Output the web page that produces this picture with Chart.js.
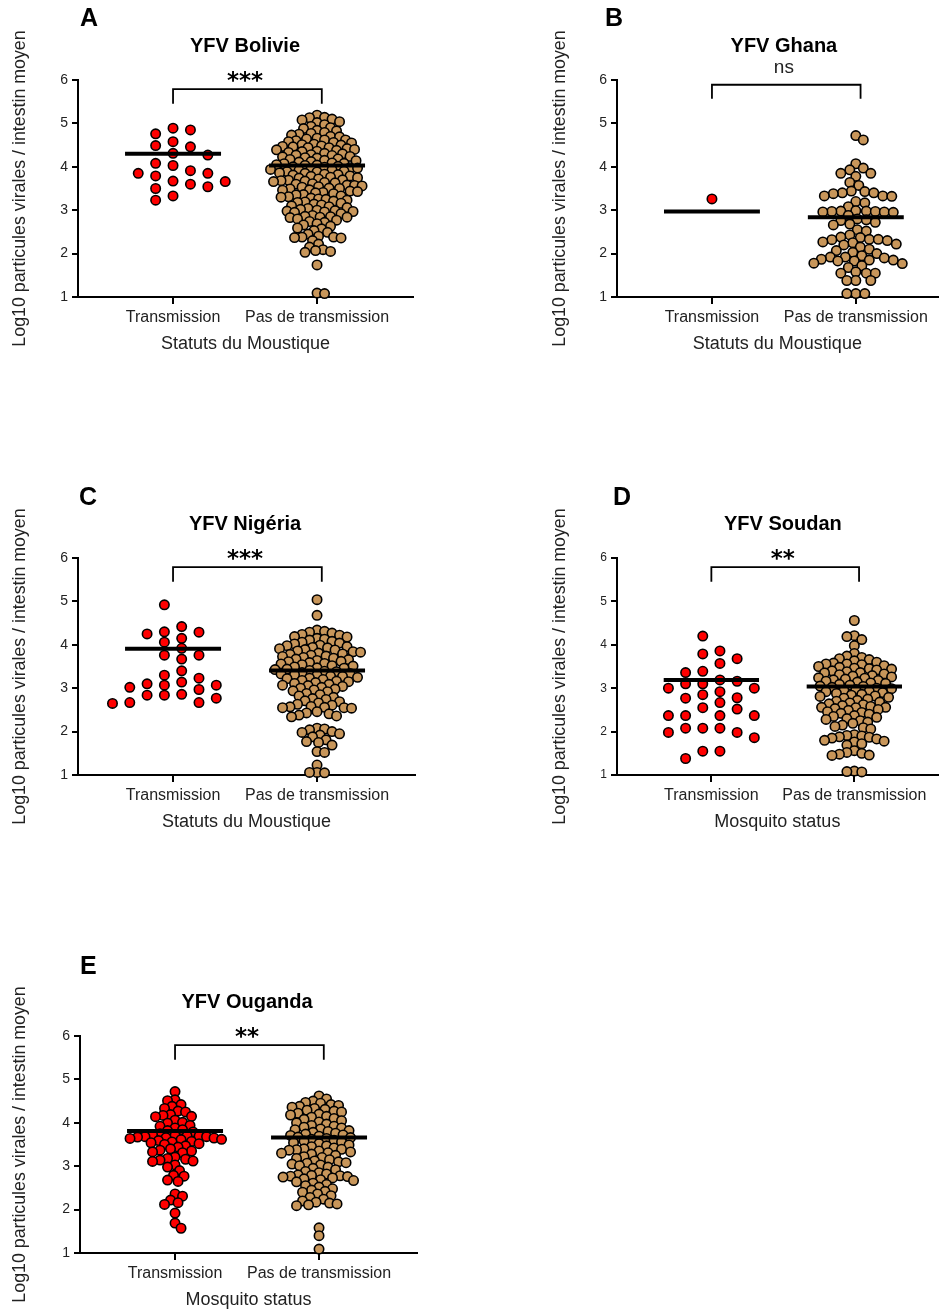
<!DOCTYPE html>
<html>
<head>
<meta charset="utf-8">
<title>YFV - charge virale de l'intestin moyen</title>
<script src="https://cdn.jsdelivr.net/npm/chart.js@4.4.1/dist/chart.umd.min.js"></script>
<style>
  html, body { margin: 0; padding: 0; background: #fff; }
  #page { position: relative; width: 944px; height: 1311px; overflow: hidden; }
  #page canvas { position: absolute; }
</style>
</head>
<body>
<div id="page">
  <canvas id="chartA" width="430" height="360" style="left:0;top:0"></canvas>
  <canvas id="chartB" width="404" height="360" style="left:540px;top:0"></canvas>
  <canvas id="chartC" width="430" height="360" style="left:0;top:478px"></canvas>
  <canvas id="chartD" width="404" height="360" style="left:540px;top:478px"></canvas>
  <canvas id="chartE" width="430" height="355" style="left:0;top:956px"></canvas>
</div>
<script>
// --- data (log10 viral particles per midgut) ---
const categories = ['Transmission', 'Pas de transmission'];
const yTicks = [1, 2, 3, 4, 5, 6];
const yTitle = 'Log10 particules virales / intestin moyen';

const bolivieTrans = [4.89, 4.85, 4.76, 4.58, 4.49, 4.46, 4.31, 4.27, 4.08, 4.03, 3.91,
  3.85, 3.85, 3.79, 3.67, 3.66, 3.60, 3.54, 3.50, 3.33, 3.23];
const bolivieNo = [5.19, 5.14, 5.13, 5.10, 5.08, 5.04, 5.02, 4.97,
  4.93, 4.90, 4.88, 4.84, 4.83, 4.79, 4.77, 4.75,
  4.73, 4.70, 4.69, 4.66, 4.64, 4.62, 4.62, 4.60, 4.58, 4.56, 4.55, 4.52, 4.51, 4.50,
  4.48, 4.47, 4.46, 4.44, 4.44, 4.42, 4.40, 4.39, 4.38, 4.36, 4.35, 4.33, 4.31, 4.30, 4.28, 4.27, 4.26, 4.24, 4.23, 4.21,
  4.20, 4.18, 4.17, 4.15, 4.14, 4.12, 4.11, 4.09, 4.08, 4.07, 4.05, 4.04, 4.03, 4.01, 4.00, 3.99, 3.98, 3.97, 3.95, 3.94,
  3.93, 3.92, 3.90, 3.89, 3.88, 3.86, 3.85, 3.83, 3.82, 3.81, 3.79, 3.78, 3.76, 3.75, 3.74, 3.72, 3.70, 3.69, 3.68, 3.67,
  3.66, 3.64, 3.63, 3.61, 3.60, 3.58, 3.57, 3.56, 3.54, 3.53, 3.51, 3.50, 3.49, 3.47, 3.46, 3.44, 3.43, 3.41, 3.40, 3.38,
  3.36, 3.35, 3.33, 3.31, 3.30, 3.28, 3.26, 3.25, 3.23, 3.21, 3.19, 3.18, 3.16, 3.14, 3.12, 3.10, 3.08, 3.06, 3.04, 3.02,
  3.00, 2.99, 2.98, 2.97, 2.96, 2.95, 2.92, 2.88, 2.86, 2.85, 2.84, 2.84, 2.83, 2.80, 2.77, 2.74, 2.72, 2.69, 2.66, 2.63,
  2.59, 2.57, 2.53, 2.49, 2.45, 2.40, 2.38, 2.38, 2.37, 2.36,
  2.30, 2.22, 2.15, 2.09, 2.07, 2.05, 2.03,
  1.74, 1.09, 1.08];
const bolivieMeans = [4.30, 4.03];

const ghanaTrans = [3.26];
const ghanaNo = [4.72, 4.62, 4.07, 3.97, 3.93, 3.85, 3.85, 3.78, 3.64, 3.57,
  3.44, 3.43, 3.40, 3.40, 3.38, 3.33, 3.33, 3.32, 3.20, 3.17, 3.08,
  2.99, 2.98, 2.98, 2.97, 2.97, 2.96, 2.96, 2.95, 2.88,
  2.80, 2.78, 2.76, 2.72, 2.68, 2.66, 2.55, 2.52,
  2.43, 2.38, 2.37, 2.33, 2.33, 2.32, 2.30, 2.27, 2.25, 2.22, 2.20, 2.15,
  2.10, 2.07, 2.03, 2.00, 1.95, 1.92, 1.92, 1.90, 1.87, 1.85, 1.85, 1.83, 1.83, 1.78, 1.77,
  1.72, 1.68, 1.58, 1.55, 1.55, 1.55, 1.38, 1.38, 1.38, 1.08, 1.08, 1.08];
const ghanaMeans = [2.97, 2.84];

const nigeriaTrans = [4.92, 4.42, 4.30, 4.29, 4.25, 4.15, 4.06, 3.92, 3.76, 3.76, 3.67,
  3.40, 3.30, 3.23, 3.14, 3.10, 3.07, 3.07, 3.02, 2.97, 2.86, 2.84, 2.84, 2.77, 2.67, 2.67, 2.65];
const nigeriaNo = [5.04, 4.68,
  4.34, 4.31, 4.29, 4.27, 4.24, 4.22,
  4.19, 4.18, 4.15, 4.13, 4.11, 4.08, 4.06, 4.04, 4.02,
  3.99, 3.98, 3.96, 3.94, 3.93, 3.91, 3.89, 3.88, 3.86, 3.84, 3.83, 3.81,
  3.79, 3.78, 3.76, 3.74, 3.73, 3.71, 3.69, 3.67, 3.66, 3.64, 3.62, 3.61, 3.59, 3.57, 3.56, 3.54, 3.52, 3.51,
  3.49, 3.47, 3.46, 3.44, 3.43, 3.41, 3.39, 3.38, 3.36, 3.34, 3.33, 3.31, 3.30, 3.28, 3.27, 3.25, 3.23, 3.22, 3.20,
  3.18, 3.16, 3.15, 3.13, 3.11, 3.09, 3.07, 3.06, 3.04, 3.02, 3.00, 2.98, 2.96, 2.94, 2.92,
  2.88, 2.85, 2.82, 2.79, 2.76, 2.74, 2.71, 2.69, 2.66, 2.63, 2.61, 2.58, 2.57, 2.56, 2.55, 2.55, 2.54,
  2.46, 2.43, 2.41, 2.38, 2.36, 2.34,
  2.08, 2.06, 2.04, 2.00, 1.98, 1.95, 1.92, 1.88, 1.81, 1.77, 1.75, 1.69, 1.54, 1.52,
  1.23, 1.06, 1.06, 1.05];
const nigeriaMeans = [3.91, 3.41];

const soudanTrans = [4.20, 3.86, 3.79, 3.68, 3.57, 3.39, 3.36, 3.19, 3.16, 3.10, 3.10, 3.00, 3.00,
  2.92, 2.85, 2.78, 2.77, 2.67, 2.55, 2.52, 2.37, 2.37, 2.37, 2.37, 2.08, 2.08, 2.08,
  1.98, 1.98, 1.86, 1.55, 1.55, 1.38];
const soudanNo = [4.56,
  4.21, 4.19, 4.12, 3.98,
  3.80, 3.74, 3.71, 3.68, 3.66, 3.63, 3.60, 3.58, 3.56, 3.56,
  3.54, 3.52, 3.50, 3.48, 3.46, 3.45,
  3.44, 3.42, 3.40, 3.38, 3.36, 3.35, 3.33, 3.31, 3.29, 3.28, 3.26, 3.24,
  3.23, 3.21, 3.19, 3.18, 3.16, 3.14, 3.12, 3.11,
  3.09, 3.07, 3.05, 3.04, 3.02, 3.00, 2.99, 2.97, 2.95, 2.93, 2.92, 2.90,
  2.88, 2.86, 2.84, 2.82, 2.81,
  2.79, 2.77, 2.75, 2.72, 2.70, 2.68, 2.66, 2.64, 2.62, 2.60, 2.58, 2.56, 2.56,
  2.55, 2.53, 2.51,
  2.49, 2.46, 2.44, 2.42, 2.40, 2.37, 2.35, 2.33, 2.30, 2.28,
  2.25, 2.22, 2.19, 2.15, 2.12, 2.09, 2.06,
  1.93, 1.91, 1.90, 1.88, 1.87, 1.85, 1.83, 1.80, 1.78, 1.76, 1.72, 1.69,
  1.56, 1.52, 1.50, 1.48, 1.46, 1.45,
  1.09, 1.08, 1.07];
const soudanMeans = [3.19, 3.04];

const ougandaTrans = [4.72, 4.53, 4.51, 4.42, 4.38, 4.33, 4.27, 4.25, 4.19, 4.17, 4.15, 4.14,
  4.06, 4.01, 3.99, 3.94, 3.92, 3.88, 3.84, 3.82, 3.79, 3.75, 3.73, 3.71, 3.70, 3.69, 3.68, 3.68,
  3.67, 3.66, 3.65, 3.64, 3.62, 3.61, 3.59, 3.57, 3.56, 3.54, 3.52, 3.50, 3.47, 3.44, 3.40,
  3.37, 3.35, 3.33, 3.31, 3.21, 3.18, 3.16, 3.14, 3.12, 3.11, 3.03, 2.98, 2.90, 2.79, 2.77,
  2.68, 2.65, 2.36, 2.31, 2.22, 2.16, 2.12, 1.92, 1.69, 1.57];
const ougandaNo = [4.62, 4.55, 4.50, 4.47, 4.45,
  4.42, 4.40, 4.38, 4.36, 4.33, 4.31, 4.29, 4.27, 4.25, 4.22, 4.20, 4.18, 4.15, 4.13, 4.10,
  4.08, 4.05, 4.02, 4.00, 3.97, 3.94, 3.92, 3.90, 3.88, 3.86, 3.84,
  3.82, 3.80,
  3.78, 3.76, 3.74, 3.72, 3.71, 3.69, 3.67, 3.66, 3.64,
  3.62, 3.60, 3.58, 3.56,
  3.54, 3.52, 3.49, 3.47, 3.45, 3.42, 3.40, 3.39, 3.38, 3.37, 3.35,
  3.33, 3.31, 3.30,
  3.28, 3.25, 3.22, 3.20, 3.18, 3.15, 3.12, 3.10, 3.08, 3.07, 3.05, 3.03, 3.01,
  2.98, 2.95, 2.92, 2.88, 2.85, 2.82, 2.80, 2.79, 2.78, 2.77, 2.76, 2.75, 2.73, 2.71, 2.69, 2.67,
  2.64, 2.61, 2.58, 2.55, 2.52, 2.48, 2.45, 2.42, 2.40,
  2.36, 2.32, 2.28, 2.24, 2.20, 2.17, 2.15, 2.13, 2.11, 2.09,
  1.58, 1.40, 1.09];
const ougandaMeans = [3.81, 3.66];

// --- styling ---
const FONT = 'Arial, "Liberation Sans", sans-serif';
const INK = '#222';
const RED = '#ff0000';
const TAN = '#c8965a';
const X_MIN = 0.34;
const PX_X = 144;        // pixels per category unit
const PX_Y = 217 / 5;    // pixels per log10 unit
const HALF_MEAN = 48 / PX_X;

// simple beeswarm: place each point as close to the category centre as possible
function swarmPoints(values, cat, step, gap, halfShift) {
    const order = values.map((v, i) => i).sort((a, b) => values[b] - values[a]);
    const placed = [];
    const pts = [];
    order.forEach((i, n) => {
        const py = values[i] * PX_Y;
        let off = 0;
        for (let k = 0; k < 300; k++) {
            let cands;
            if (halfShift) {
                const d = (k + 0.5) * step;
                cands = n % 2 ? [d, -d] : [-d, d];
            } else {
                cands = k === 0 ? [0] : (n % 2 ? [k * step, -k * step] : [-k * step, k * step]);
            }
            const hit = cands.find(dx => placed.every(q => Math.hypot(q.dx - dx, q.py - py) >= gap));
            if (hit !== undefined) { off = hit; break; }
        }
        placed.push({ dx: off, py });
        pts.push({ x: cat + off / PX_X, y: values[i] });
    });
    return pts;
}

const panelText = {
    id: 'panelText',
    afterDraw(chart, args, o) {
        const { ctx, chartArea, scales: { x, y } } = chart;
        const mid = x.getPixelForValue(1.5);
        ctx.save();
        ctx.fillStyle = '#000';
        ctx.textBaseline = 'middle';
        ctx.textAlign = 'left';
        ctx.font = 'bold 25px ' + FONT;
        ctx.fillText(o.letter, o.letterX, o.letterY);

        ctx.textAlign = 'center';
        ctx.font = 'bold 20px ' + FONT;
        ctx.fillText(o.title, mid, chartArea.top - 34);

        const top = y.getPixelForValue(o.bracket[1]);
        ctx.textBaseline = 'alphabetic';
        if (o.sig === 'ns') {
            ctx.font = '19px ' + FONT;
            ctx.fillStyle = INK;
            ctx.fillText(o.sig, mid, top - 12);
        } else {
            ctx.font = 'bold 23px "DejaVu Sans", sans-serif';
            ctx.fillText(o.sig, mid, top - 1);
        }

        ctx.fillStyle = INK;
        ctx.font = '17.8px ' + FONT;
        ctx.textBaseline = 'middle';
        ctx.translate(20, (chartArea.top + chartArea.bottom) / 2);
        ctx.rotate(-Math.PI / 2);
        ctx.fillText(yTitle, 0, 0);
        ctx.restore();
    }
};

function lineSet(points, width) {
    return { type: 'line', data: points, borderColor: '#000', borderWidth: width,
        pointRadius: 0, fill: false, clip: false, order: 0 };
}

function buildChart(p) {
    const plotW = p.width - p.padRight - p.yWidth;
    const xMax = X_MIN + plotW / PX_X;
    const b = p.bracket;
    const dotStyle = { borderColor: '#000', borderWidth: 1.6, pointRadius: 4.7, clip: false, order: 1 };

    new Chart(document.getElementById(p.id), {
        type: 'scatter',
        data: {
            datasets: [
                lineSet([{ x: 1 - HALF_MEAN, y: p.means[0] }, { x: 1 + HALF_MEAN, y: p.means[0] }], 4),
                lineSet([{ x: 2 - HALF_MEAN, y: p.means[1] }, { x: 2 + HALF_MEAN, y: p.means[1] }], 4),
                lineSet([{ x: 1, y: b[0] }, { x: 1, y: b[1] }, { x: 2.033, y: b[1] }, { x: 2.033, y: b[0] }], 1.8),
                Object.assign({ data: swarmPoints(p.trans, 1, p.tStep, p.tGap, p.tHalf), backgroundColor: RED }, dotStyle),
                Object.assign({ data: swarmPoints(p.none, 2, p.nStep, p.nGap, false), backgroundColor: TAN }, dotStyle)
            ]
        },
        options: {
            responsive: false,
            animation: false,
            events: [],
            layout: { padding: { top: 80, left: 0, right: p.padRight, bottom: 0 } },
            plugins: {
                legend: { display: false },
                tooltip: { enabled: false },
                panelText: { letter: p.letter, letterX: p.letterX, letterY: p.letterY, title: p.title, sig: p.sig, bracket: b }
            },
            scales: {
                x: {
                    type: 'linear', min: X_MIN, max: xMax,
                    afterFit: s => { s.height = p.height - 297; },
                    afterBuildTicks: s => { s.ticks = [{ value: 1 }, { value: 2 }]; },
                    ticks: { callback: v => categories[v - 1], font: { family: FONT, size: 16 }, color: INK,
                        padding: 4, maxRotation: 0, autoSkip: false },
                    grid: { display: true, drawOnChartArea: false, drawTicks: true, tickLength: 7, color: '#000', lineWidth: 2 },
                    border: { display: true, color: '#000', width: 2 },
                    title: { display: true, text: p.xTitle, color: INK, font: { family: FONT, size: 18 },
                        padding: { top: 0, bottom: p.height - 344 - 10.8 } }
                },
                y: {
                    min: 1, max: 6,
                    afterFit: s => { s.width = p.yWidth; },
                    afterBuildTicks: s => { s.ticks = yTicks.map(v => ({ value: v })); },
                    ticks: { font: { family: FONT, size: p.yTickSize }, color: INK, padding: 4 },
                    grid: { display: true, drawOnChartArea: false, drawTicks: true, tickLength: 6, color: '#000', lineWidth: 2 },
                    border: { display: true, color: '#000', width: 2 }
                }
            }
        },
        plugins: [panelText]
    });
}

const panels = [
    { id: 'chartA', letter: 'A', title: 'YFV Bolivie', xTitle: 'Statuts du Moustique', sig: '***',
      trans: bolivieTrans, none: bolivieNo, means: bolivieMeans, bracket: [5.45, 5.79],
      width: 430, height: 360, yWidth: 78, padRight: 17, letterX: 80, letterY: 19, yTickSize: 14,
      tStep: 17.4, tGap: 11, tHalf: false, nStep: 1.5, nGap: 6.7 },
    { id: 'chartB', letter: 'B', title: 'YFV Ghana', xTitle: 'Statuts du Moustique', sig: 'ns',
      trans: ghanaTrans, none: ghanaNo, means: ghanaMeans, bracket: [5.57, 5.89],
      width: 404, height: 360, yWidth: 77, padRight: 6, letterX: 65, letterY: 19, yTickSize: 14,
      tStep: 17.4, tGap: 11, tHalf: false, nStep: 1.5, nGap: 8.3 },
    { id: 'chartC', letter: 'C', title: 'YFV Nigéria', xTitle: 'Statuts du Moustique', sig: '***',
      trans: nigeriaTrans, none: nigeriaNo, means: nigeriaMeans, bracket: [5.45, 5.79],
      width: 430, height: 360, yWidth: 78, padRight: 15, letterX: 79, letterY: 20, yTickSize: 14,
      tStep: 17.3, tGap: 9.5, tHalf: true, nStep: 1.5, nGap: 7.3 },
    { id: 'chartD', letter: 'D', title: 'YFV Soudan', xTitle: 'Mosquito status', sig: '**',
      trans: soudanTrans, none: soudanNo, means: soudanMeans, bracket: [5.45, 5.79],
      width: 404, height: 360, yWidth: 77, padRight: 4, letterX: 73, letterY: 20, yTickSize: 12,
      tStep: 17.3, tGap: 10, tHalf: true, nStep: 1.5, nGap: 7.2 },
    { id: 'chartE', letter: 'E', title: 'YFV Ouganda', xTitle: 'Mosquito status', sig: '**',
      trans: ougandaTrans, none: ougandaNo, means: ougandaMeans, bracket: [5.45, 5.79],
      width: 430, height: 355, yWidth: 80, padRight: 13, letterX: 80, letterY: 11, yTickSize: 14,
      tStep: 1.5, tGap: 7, tHalf: false, nStep: 1.5, nGap: 7 }
];

panels.forEach(buildChart);
</script>
</body>
</html>
